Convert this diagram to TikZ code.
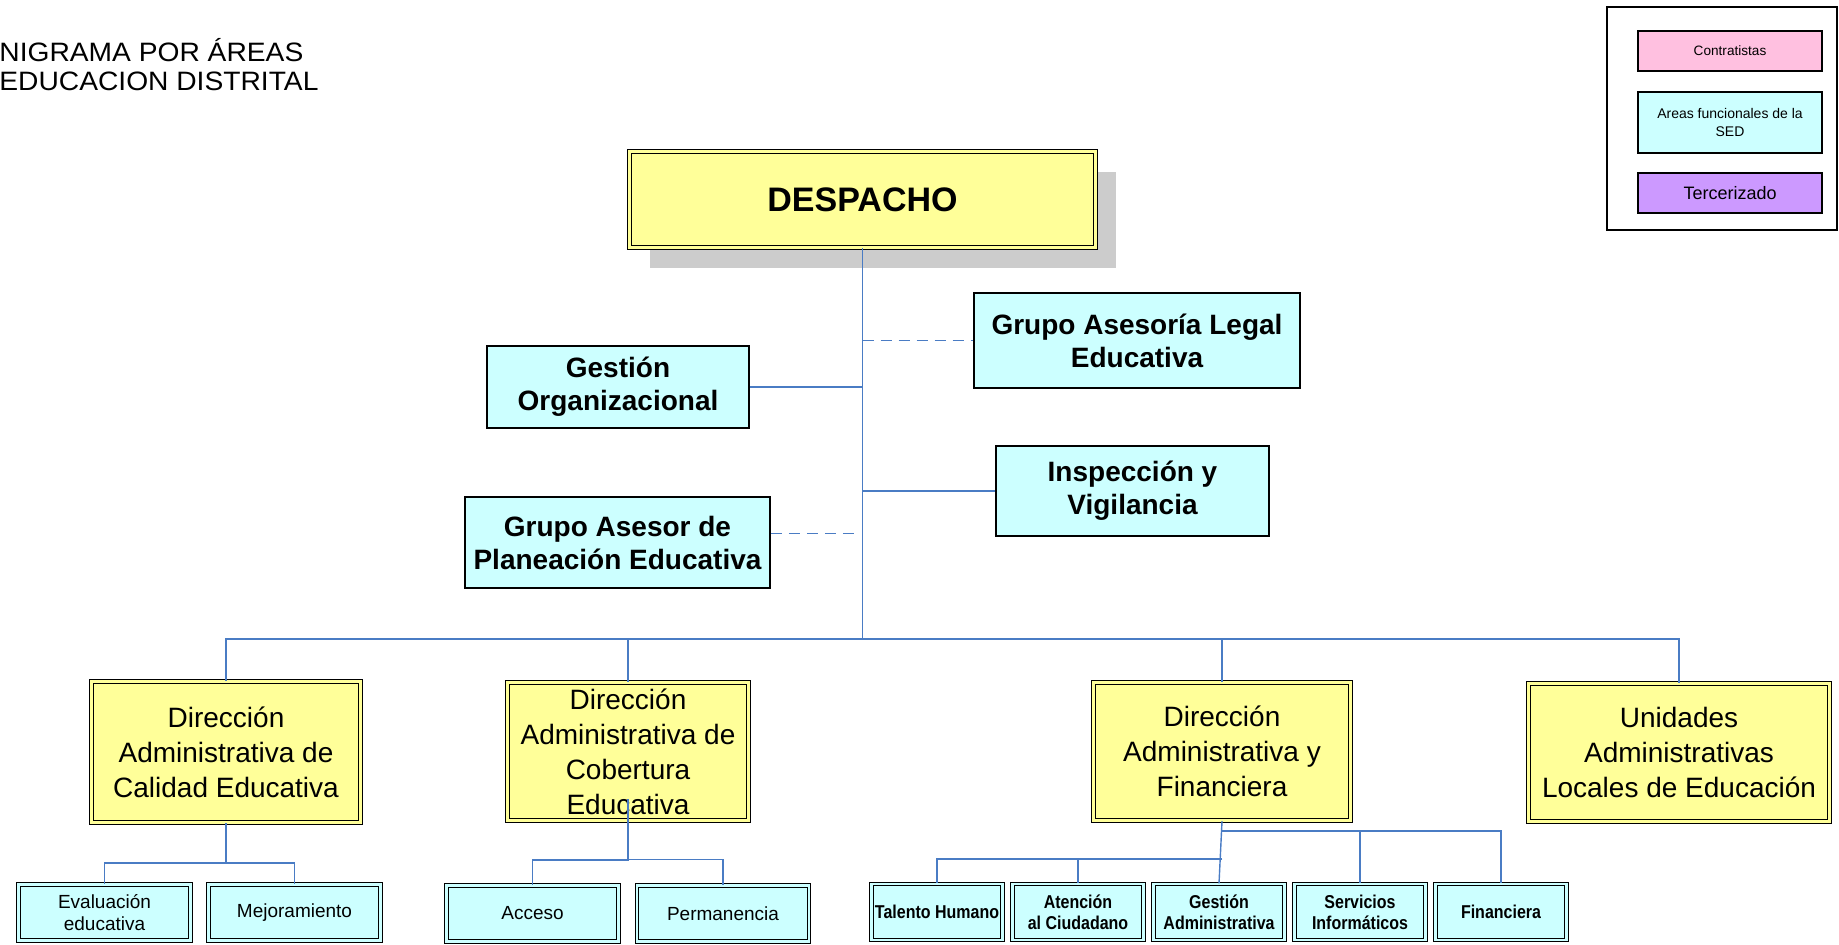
\documentclass[tikz,border=0pt]{standalone}
\usepackage{fontspec}
\setmainfont{Liberation Sans}
\newfontfamily\titlefont{Liberation Sans}[FakeStretch=1.06]
\newfontfamily\narrowfont{Liberation Sans}[FakeStretch=0.86]
\usetikzlibrary{shadows}
\definecolor{headyellow}{HTML}{FFFF99}
\definecolor{areacyan}{HTML}{CCFFFF}
\definecolor{contrpink}{HTML}{FFC0E0}
\definecolor{terclilac}{HTML}{CC99FF}
\definecolor{linkblue}{HTML}{4A7CC4}
\definecolor{shadowgray}{HTML}{CCCCCC}
\tikzset{%
  every box/.style={
    rectangle,
    align=center,
    inner sep=0pt
  },
  head box/.style={
    every box, draw, fill=headyellow,
    double=headyellow, double distance=1.3pt, line width=0.6pt,
    minimum height=69pt,
    font=\fontsize{14pt}{17.5pt}\selectfont
  },
  area box/.style={
    every box, draw, fill=areacyan, line width=0.8pt,
    font=\bfseries\fontsize{14pt}{16.5pt}\selectfont
  },
  unit box/.style={
    every box, draw, fill=areacyan,
    double=areacyan, double distance=1.1pt, line width=0.6pt,
    minimum height=28pt
  },
  plain unit/.style={
    unit box, minimum width=86pt,
    font=\fontsize{9.5pt}{11pt}\selectfont
  },
  bold unit/.style={
    unit box, minimum width=65.5pt,
    font=\narrowfont\bfseries\fontsize{9.3pt}{10.5pt}\selectfont
  },
  legend item/.style={
    every box, draw, line width=0.6pt, minimum width=92pt
  },
  title text/.style={
    anchor=base west, inner sep=0pt,
    font=\titlefont\fontsize{13.3pt}{14pt}\selectfont
  },
  link/.style={draw=linkblue, line width=0.7pt},
  dash link/.style={link, line width=0.85pt, dash pattern=on 5.5pt off 3.5pt},
}

\begin{document}
\begin{tikzpicture}[x=0.5pt, y=-0.5pt]
            \useasboundingbox (0,0) rectangle (1839,944);

            % Title
            \node [title text] (title-1) at (-1,61.5) {NIGRAMA POR ÁREAS};
            \node [title text] (title-2) at (-1,90) {EDUCACION DISTRITAL};

            % Legend
            \node [draw, line width=0.8pt, minimum width=115pt, minimum height=111.5pt] (legend) at (1722,118.5) {};
            \node [legend item, fill=contrpink, minimum height=20pt, font=\fontsize{6.8pt}{8pt}\selectfont]
              (legend-1) at (1730,51) {Contratistas};
            \node [legend item, fill=areacyan, minimum height=30.5pt, font=\fontsize{7pt}{9pt}\selectfont]
              (legend-2) at (1730,122.5) {Areas funcionales de la\\SED};
            \node [legend item, fill=terclilac, minimum height=20pt, font=\fontsize{9pt}{11pt}\selectfont]
              (legend-3) at (1730,193) {Tercerizado};

            % Despacho
            \node [head box, minimum width=233pt, minimum height=48pt,
                   font=\bfseries\fontsize{17pt}{20pt}\selectfont,
                   drop shadow={shadow xshift=10pt, shadow yshift=-10pt, fill=shadowgray, opacity=1}]
              (despacho) at (862.5,199.5) {DESPACHO};

            % Areas beside the trunk
            \node [area box, minimum width=131pt, minimum height=41pt] (gestion) at (618,387) {Gestión\\Organizacional};
            \node [area box, minimum width=163pt, minimum height=47.5pt] (legal) at (1137,340.5) {Grupo Asesoría Legal\\Educativa};
            \node [area box, minimum width=136.5pt, minimum height=45pt] (inspeccion) at (1132.5,491) {Inspección y\\Vigilancia};
            \node [area box, minimum width=152.5pt, minimum height=45.5pt] (planeacion) at (617.5,542.5) {Grupo Asesor de\\Planeación Educativa};

            % Directions
            \node [head box, minimum width=134.5pt, minimum height=70.5pt] (calidad) at (226,752) {Dirección\\Administrativa de\\Calidad Educativa};
            \node [head box, minimum width=120.5pt] (cobertura) at (628,751.5) {Dirección\\Administrativa de\\Cobertura\\Educativa};
            \node [head box, minimum width=128.5pt] (dirfin) at (1222,751.5) {Dirección\\Administrativa y\\Financiera};
            \node [head box, minimum width=150.5pt] (unidades) at (1679,752.5) {Unidades\\Administrativas\\Locales de Educación};

            % Units
            \node [plain unit] (evaluacion) at (104.5,912.5) {Evaluación\\educativa};
            \node [plain unit] (mejoramiento) at (294.5,912.5) {Mejoramiento};
            \node [plain unit] (acceso) at (532.5,913.5) {Acceso};
            \node [plain unit] (permanencia) at (723,913.5) {Permanencia};
            \foreach \n/\l [count=\i from 0] in {talento/Talento Humano, atencion/Atención\\al Ciudadano,
                gestadm/Gestión\\Administrativa, servicios/Servicios\\Informáticos, financiera/Financiera}
              \node [bold unit] (\n) at (937+141*\i,912) {\l};

            % Trunk and bus
            \coordinate (hub) at (862.5,639);
            \draw [link] (despacho.south) -- (hub);
            \foreach \n in {calidad,cobertura,dirfin,unidades}
              \draw [link] (hub) -| (\n.north);

            % Lines from the trunk to the areas
            \draw [link] (gestion.east) -- (gestion.east -| hub);
            \draw [link] (inspeccion.west -| hub) -- (inspeccion.west);
            \draw [dash link] (legal.west -| hub) -- (legal.west);
            \coordinate (planeacion tip) at ([yshift=4.5pt]planeacion.east);
            \draw [dash link] (planeacion tip) -- ([xshift=-2.5pt]planeacion tip -| hub);

            % Lines from the directions to the units
            \draw [link] (calidad.south) -- ++(0,40) -| (evaluacion.north);
            \draw [link] (calidad.south) ++(0,40) -| (mejoramiento.north);
            \draw [link] ([yshift=11pt]cobertura.south) -- ++(0,61) -| (acceso.north);
            \draw [link] (cobertura.south) ++(0,38.5) -| (permanencia.north);
            \draw [link] (dirfin.south) -- (gestadm.north);
            \foreach \n in {servicios,financiera}
              \draw [link] (dirfin.south) ++(0,10) -| (\n.north);
            \foreach \n in {talento,atencion}
              \draw [link] (dirfin.south) ++(0,38) -| (\n.north);

\end{tikzpicture}
\end{document}
